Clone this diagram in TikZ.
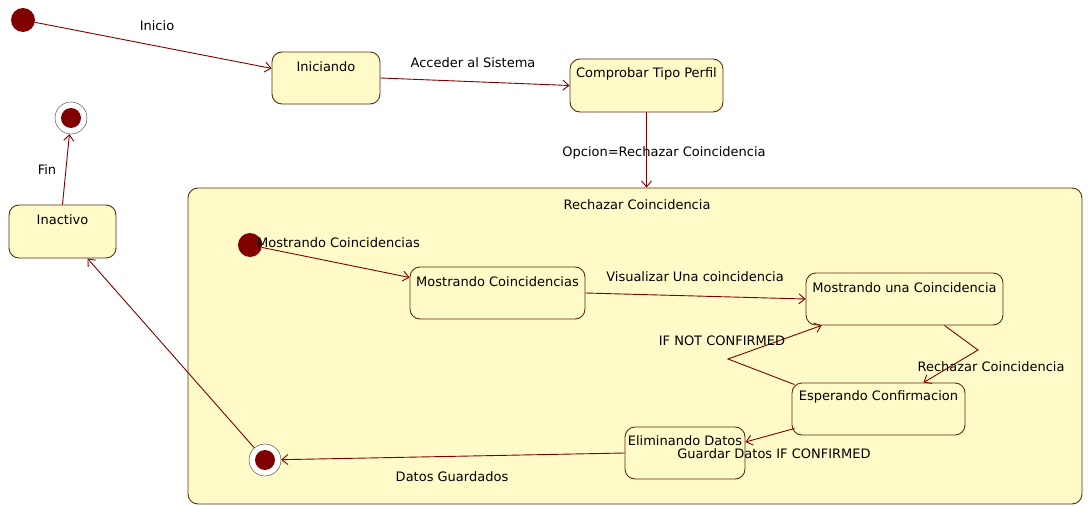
\documentclass[tikz,border=0pt]{standalone}
\usepackage{fontspec}
\setmainfont{DejaVu Sans}
\usetikzlibrary{arrows.meta,calc}

\definecolor{amarillo}{RGB}{255,251,200}
\definecolor{granate}{RGB}{128,0,0}
\definecolor{borde}{RGB}{90,45,15}

\tikzset{
  estado/.style={draw=borde,line width=0.9pt,fill=amarillo,rounded corners=10pt,inner sep=0pt},
  nombre/.style={anchor=center,yshift=-15pt,inner sep=0pt},
  inicial/.style={circle,fill=granate,minimum size=24pt,inner sep=0pt},
  final/.style={circle,draw=black!80,fill=white,minimum size=32pt,inner sep=0pt,
    path picture={\fill[granate] (path picture bounding box.center) circle (10pt);}},
  trans/.style={granate,line width=0.9pt,->},
}

\begin{document}
\begin{tikzpicture}[x=1pt,y=-1pt,>={Straight Barb[length=6pt,width=10pt]},
  font=\fontsize{13}{15}\selectfont]
  \useasboundingbox (0,0) rectangle (1088,506);
  % 複合状態
  \node[estado,minimum width=894pt,minimum height=316pt] (rechazar) at (635,346) {};
  \node (tRechazar) at (637,205) {Rechazar Coincidencia};
  % 状態
  \node[inicial] (ini) at (23,20) {};
  \node[final] (fin) at (71,118) {};
  \node[estado,minimum width=108pt,minimum height=52pt,
    label={[nombre]north:Iniciando}] (iniciando) at (326,78) {};
  \node[estado,minimum width=153pt,minimum height=53pt,
    label={[nombre]north:Comprobar Tipo Perfil}] (comprobar) at (646.5,85.5) {};
  \node[estado,minimum width=107pt,minimum height=53pt,
    label={[nombre]north:Inactivo}] (inactivo) at (62.5,231.5) {};
  \node[inicial] (iniIn) at (250,245) {};
  \node[final] (finIn) at (265,460) {};
  \node[estado,minimum width=175pt,minimum height=52pt,
    label={[nombre]north:Mostrando Coincidencias}] (mostrando) at (497.5,293) {};
  \node[estado,minimum width=197pt,minimum height=52pt,
    label={[nombre]north:Mostrando una Coincidencia}] (mostrandoUna) at (904.5,299) {};
  \node[estado,minimum width=173pt,minimum height=52pt,
    label={[nombre,yshift=1pt]north:Esperando Confirmacion}] (esperando) at (878.5,409) {};
  \node[estado,minimum width=120pt,minimum height=52pt,
    label={[nombre,yshift=1pt]north:Eliminando Datos}] (eliminando) at (685,453) {};
  % 折れ点
  \coordinate (c1) at (978,350);
  \coordinate (c2) at (728,359);
  % 遷移
  \draw[trans] (ini) -- (iniciando.170);
  \draw[trans] (iniciando.east) -- (comprobar.west);
  \draw[trans] (comprobar.south) -- (comprobar.south |- rechazar.north);
  \draw[trans] (inactivo.north) -- (fin);
  \draw[trans] (iniIn) -- (mostrando.170);
  \draw[trans] (mostrando.east) -- (mostrandoUna.west);
  \draw[trans] ($(mostrandoUna.south)+(40,0)$) -- (c1) -- ($(esperando.north)+(45,0)$);
  \draw[trans] ($(esperando.north west)+(3,2)$) -- (c2) -- ($(mostrandoUna.south west)+(16,0)$);
  \draw[trans] ($(esperando.south west)+(3,-7)$) -- ($(eliminando.east)+(0,-11)$);
  \draw[trans] (eliminando.west) -- (finIn);
  \draw[trans] (finIn) -- ($(inactivo.south)+(25,0)$);
  % ラベル
  \node (lInicio) at (157,26) {Inicio};
  \node (lAcceder) at (473,63) {Acceder al Sistema};
  \node (lOpcion) at (664,153) {Opcion=Rechazar Coincidencia};
  \node (lFin) at (47,170) {Fin};
  \node[anchor=west,inner sep=0pt] (lMostrando) at (257,243) {Mostrando Coincidencias};
  \node (lVisualizar) at (695,277) {Visualizar Una coincidencia};
  \node (lNot) at (722,341) {IF NOT CONFIRMED};
  \node (lRechazar) at (991,367) {Rechazar Coincidencia};
  \node (lGuardar) at (774,454) {Guardar Datos IF CONFIRMED};
  \node (lDatos) at (452,477) {Datos Guardados};
\end{tikzpicture}
\end{document}
